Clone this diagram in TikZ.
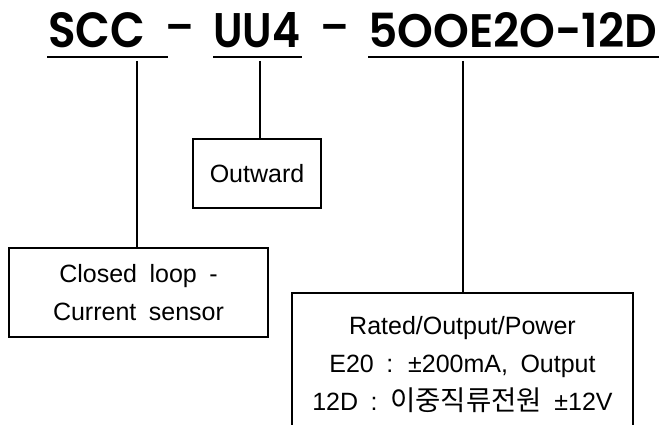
\documentclass[tikz,border=0pt]{standalone}
\usepackage{fontspec}
\usepackage{graphicx}
\setmainfont{Liberation Sans}[WordSpace=1.8]
\newfontfamily\kr{Noto Sans CJK KR}[Scale=1.1]
\newfontfamily\ttl{Poppins SemiBold}
\tikzset{
  boxed/.style={draw, line width=1.8pt, inner sep=0pt, align=center,
    font=\fontsize{25}{38}\selectfont},
  conn/.style={line width=1.4pt},
  uline/.style={line width=2pt},
  ttlpart/.style={anchor=base west, inner sep=0pt},
  dashpart/.style={inner sep=0pt, font=\ttl\fontsize{41}{41}\selectfont},
}
\begin{document}
\begin{tikzpicture}[x=1pt,y=-1pt]
\useasboundingbox[fill=white] (0,0) rectangle (659,425);
% title
\node[ttlpart] (scc) at (48,48) {\resizebox{97pt}{35pt}{\ttl SCC}};
\node[ttlpart] (uu4) at (213,48) {\resizebox{87pt}{35pt}{\ttl UU4}};
\node[ttlpart] (code) at (368,48) {\resizebox{289pt}{35pt}{\ttl 5OOE2O-12D}};
\node[dashpart] (d1) at (179.5,33) {–};
\node[dashpart] (d2) at (334.5,33) {–};
% underlines
\coordinate (s1) at (47,57);  \coordinate (e1) at (168,57);
\coordinate (s2) at (213,57); \coordinate (e2) at (302,57);
\coordinate (s3) at (368,57); \coordinate (e3) at (659,57);
\draw[uline] (s1) -- (e1);
\draw[uline] (s2) -- (e2);
\draw[uline] (s3) -- (e3);
% boxes
\node[boxed, minimum width=259pt, minimum height=89pt] (loop) at (138.5,292.5)
  {Closed loop -\\Current sensor};
\node[boxed, minimum width=128pt, minimum height=69pt] (out) at (257,173.5)
  {Outward};
\node[boxed, minimum width=341pt, minimum height=144pt] (spec) at (462.5,365)
  {Rated/Output/Power\\E20 : ±200mA, Output\\12D : {\kr 이중직류전원} ±12V};
% connectors
\coordinate (c1) at (137,61);
\coordinate (c2) at (260,61);
\coordinate (c3) at (463,61);
\draw[conn] (c1) -- (c1 |- loop.north);
\draw[conn] (c2) -- (c2 |- out.north);
\draw[conn] (c3) -- (c3 |- spec.north);
\end{tikzpicture}
\end{document}
